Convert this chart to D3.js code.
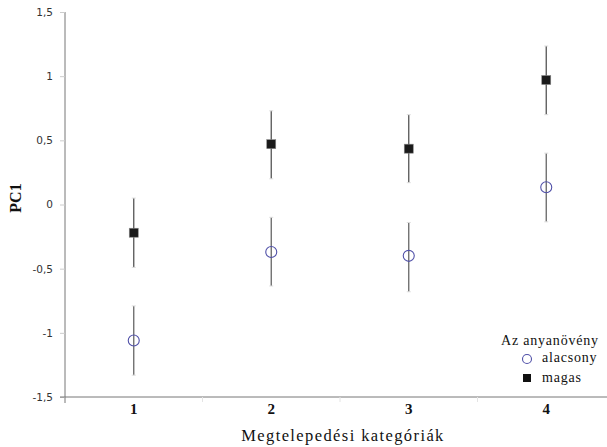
<!DOCTYPE html>
<html><head><meta charset="utf-8">
<script src="https://cdn.jsdelivr.net/npm/d3@7"></script>
<style>body{margin:0;background:#fff}svg{display:block}</style>
</head><body>
<script>
const categories = ["1","2","3","4"];
const alacsonyMean = [-1.06, -0.37, -0.40, 0.135];
const alacsonyLow  = [-1.33, -0.635, -0.68, -0.135];
const alacsonyHigh = [-0.79, -0.10, -0.14, 0.40];
const magasMean = [-0.22, 0.47, 0.435, 0.97];
const magasLow  = [-0.49, 0.20, 0.17, 0.70];
const magasHigh = [0.05, 0.73, 0.70, 1.235];
const yTicks = [-1.5, -1, -0.5, 0, 0.5, 1, 1.5];
const legendTitle = "Az anyanövény";
const seriesNames = ["alacsony", "magas"];

const W = 607, H = 447;
const svg = d3.select("body").append("svg").attr("width", W).attr("height", H);
const x = d3.scaleBand().domain(categories).range([65, 615]);
const y = d3.scaleLinear().domain([-1.5, 1.5]).range([397, 12]);
const fmt = d => String(d).replace(".", ",");

// y axis
const ya = svg.append("g").attr("transform", "translate(65,0)")
  .call(d3.axisLeft(y).tickValues(yTicks).tickFormat(fmt).tickSize(5).tickPadding(7));
ya.select(".domain").attr("stroke", "#777").attr("d", `M0,${y(1.5)}V${y(-1.5)+6}`);
ya.selectAll(".tick line").attr("stroke", "#ccc");
ya.selectAll(".tick text").attr("font-family", "DejaVu Sans, sans-serif").attr("font-size", 10.5).attr("fill", "#333");

// x axis
const xa = svg.append("g").attr("transform", `translate(0,${y(-1.5)})`)
  .call(d3.axisBottom(x).tickSize(0).tickPadding(6));
xa.select(".domain").attr("stroke", "#777").attr("d", `M60,0H607`);
xa.selectAll(".tick text").attr("font-family", "Liberation Serif, serif").attr("font-size", 15).attr("font-weight", "bold").attr("fill", "#111");
// faint boundary ticks
svg.append("g").selectAll("line").data(categories.slice(1)).join("line")
  .attr("x1", d => x(d)).attr("x2", d => x(d))
  .attr("y1", y(-1.5)).attr("y2", y(-1.5) + 5).attr("stroke", "#e4e4e4");

// axis titles
svg.append("text").attr("x", 343).attr("y", 441).attr("text-anchor", "middle")
  .attr("font-family", "Liberation Serif, serif").attr("font-size", 16.5).attr("letter-spacing", 1.4).attr("fill", "#111")
  .text("Megtelepedési kategóriák");
svg.append("text").attr("transform", `translate(21,198) rotate(-90)`).attr("text-anchor", "middle")
  .attr("font-family", "Liberation Serif, serif").attr("font-size", 16).attr("font-weight", "bold").attr("fill", "#111")
  .text("PC1");

const cx = d => x(d) + x.bandwidth() / 2;

// error bars
function errBars(low, high, color) {
  const g = svg.append("g");
  g.selectAll("line.e").data(categories).join("line")
    .attr("x1", cx).attr("x2", cx)
    .attr("y1", (d, i) => y(high[i])).attr("y2", (d, i) => y(low[i]))
    .attr("stroke", color).attr("stroke-width", 1.3);
  g.selectAll("line.c1").data(categories).join("line")
    .attr("x1", d => cx(d) - 2).attr("x2", d => cx(d) + 2)
    .attr("y1", (d, i) => y(high[i])).attr("y2", (d, i) => y(high[i]))
    .attr("stroke", "#ddd");
  g.selectAll("line.c2").data(categories).join("line")
    .attr("x1", d => cx(d) - 2).attr("x2", d => cx(d) + 2)
    .attr("y1", (d, i) => y(low[i])).attr("y2", (d, i) => y(low[i]))
    .attr("stroke", "#ddd");
}
errBars(alacsonyLow, alacsonyHigh, "#666");
errBars(magasLow, magasHigh, "#555");

// markers
svg.append("g").selectAll("circle").data(categories).join("circle")
  .attr("cx", cx).attr("cy", (d, i) => y(alacsonyMean[i])).attr("r", 5.5)
  .attr("fill", "none").attr("stroke", "#5050a8").attr("stroke-width", 1.1);
svg.append("g").selectAll("rect").data(categories).join("rect")
  .attr("x", d => cx(d) - 4.5).attr("y", (d, i) => y(magasMean[i]) - 4.5)
  .attr("width", 9).attr("height", 9).attr("fill", "#1a1a1a").attr("stroke", "#888").attr("stroke-width", 0.6);

// legend
const lg = svg.append("g").attr("font-family", "Liberation Serif, serif").attr("font-size", 14).attr("letter-spacing", 0.8).attr("fill", "#111");
lg.append("text").attr("x", 501).attr("y", 345).text(legendTitle);
lg.append("circle").attr("cx", 527).attr("cy", 359).attr("r", 4.5).attr("fill", "none").attr("stroke", "#5050a8").attr("stroke-width", 1.1);
lg.append("text").attr("x", 542).attr("y", 362).text(seriesNames[0]);
lg.append("rect").attr("x", 523).attr("y", 374).attr("width", 8).attr("height", 8).attr("fill", "#111");
lg.append("text").attr("x", 542).attr("y", 382).text(seriesNames[1]);
</script>
</body></html>
